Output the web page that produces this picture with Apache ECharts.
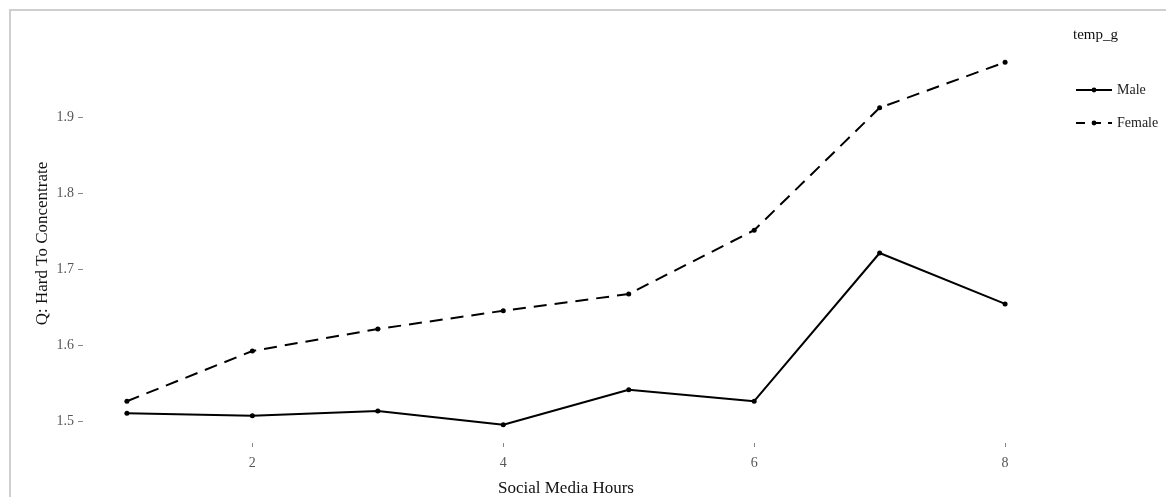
<!DOCTYPE html>
<html>
<head>
<meta charset="utf-8">
<script src="https://cdn.jsdelivr.net/npm/echarts@6/dist/echarts.min.js"></script>
<style>
  html, body { margin: 0; padding: 0; background: #fff; }
  #chart { width: 1166px; height: 497px; }
</style>
</head>
<body>
<div id="chart"></div>
<script>
// Social media hours vs. mean "hard to concentrate" score by gender
const hours = [1, 2, 3, 4, 5, 6, 7, 8];
const maleValues = [1.510, 1.507, 1.513, 1.495, 1.541, 1.526, 1.721, 1.654];
const femaleValues = [1.526, 1.592, 1.621, 1.645, 1.667, 1.751, 1.912, 1.972];
const xTicks = [2, 4, 6, 8];
const yTicks = [1.5, 1.6, 1.7, 1.8, 1.9];

const serif = '"Liberation Serif", "DejaVu Serif", serif';

const pairs = (vals) => hours.map((h, i) => [h, vals[i]]);

const chart = echarts.init(document.getElementById('chart'), null, { renderer: 'canvas' });

chart.setOption({
  animation: false,
  backgroundColor: '#ffffff',
  title: {
    text: 'temp_g',
    left: 1073,
    top: 28,
    padding: 0,
    textStyle: { fontFamily: serif, fontSize: 15, fontWeight: 'normal', color: '#111' }
  },
  legend: {
    orient: 'vertical',
    left: 1075,
    top: 82,
    padding: 0,
    itemWidth: 36,
    itemHeight: 6,
    itemGap: 17,
    textStyle: { fontFamily: serif, fontSize: 14, color: '#222', lineHeight: 16 },
    data: [
      { name: 'Male' },
      { name: 'Female', lineStyle: { type: [9, 7] } }
    ]
  },
  grid: { left: 83, right: 117, top: 44, bottom: 54, containLabel: false, outerBoundsMode: 'none' },
  xAxis: {
    type: 'value',
    min: 0.65,
    max: 8.35,
    name: 'Social Media Hours',
    nameLocation: 'middle',
    nameGap: 37,
    nameTextStyle: { fontFamily: serif, fontSize: 17, color: '#111' },
    axisLine: { show: false },
    splitLine: { show: false },
    axisTick: { show: true, length: 4, customValues: xTicks, lineStyle: { color: '#888', width: 1 } },
    axisLabel: {
      customValues: xTicks,
      margin: 13,
      fontFamily: serif, fontSize: 14, color: '#555'
    }
  },
  yAxis: {
    type: 'value',
    min: 1.471,
    max: 1.996,
    name: 'Q: Hard To Concentrate',
    nameLocation: 'middle',
    nameGap: 32,
    nameMoveOverlap: false,
    nameTextStyle: { fontFamily: serif, fontSize: 17, color: '#111' },
    axisLine: { show: false },
    splitLine: { show: false },
    axisTick: { show: true, length: 5, customValues: yTicks, lineStyle: { color: '#888', width: 1 } },
    axisLabel: {
      customValues: yTicks,
      margin: 9,
      fontFamily: serif, fontSize: 14, color: '#555',
      formatter: (v) => v.toFixed(1)
    }
  },
  series: [
    {
      name: 'Male',
      type: 'line',
      data: pairs(maleValues),
      symbol: 'circle',
      symbolSize: 5,
      itemStyle: { color: '#000' },
      lineStyle: { color: '#000', width: 2, type: 'solid' }
    },
    {
      name: 'Female',
      type: 'line',
      data: pairs(femaleValues),
      symbol: 'circle',
      symbolSize: 5,
      itemStyle: { color: '#000' },
      lineStyle: { color: '#000', width: 2, type: [13, 8] }
    }
  ],
  graphic: [
    { type: 'line', shape: { x1: 9, y1: 10, x2: 1166, y2: 10 }, style: { stroke: '#cfcfcf', lineWidth: 2 } },
    { type: 'line', shape: { x1: 10, y1: 9, x2: 10, y2: 497 }, style: { stroke: '#cfcfcf', lineWidth: 2 } }
  ]
});
</script>
</body>
</html>
